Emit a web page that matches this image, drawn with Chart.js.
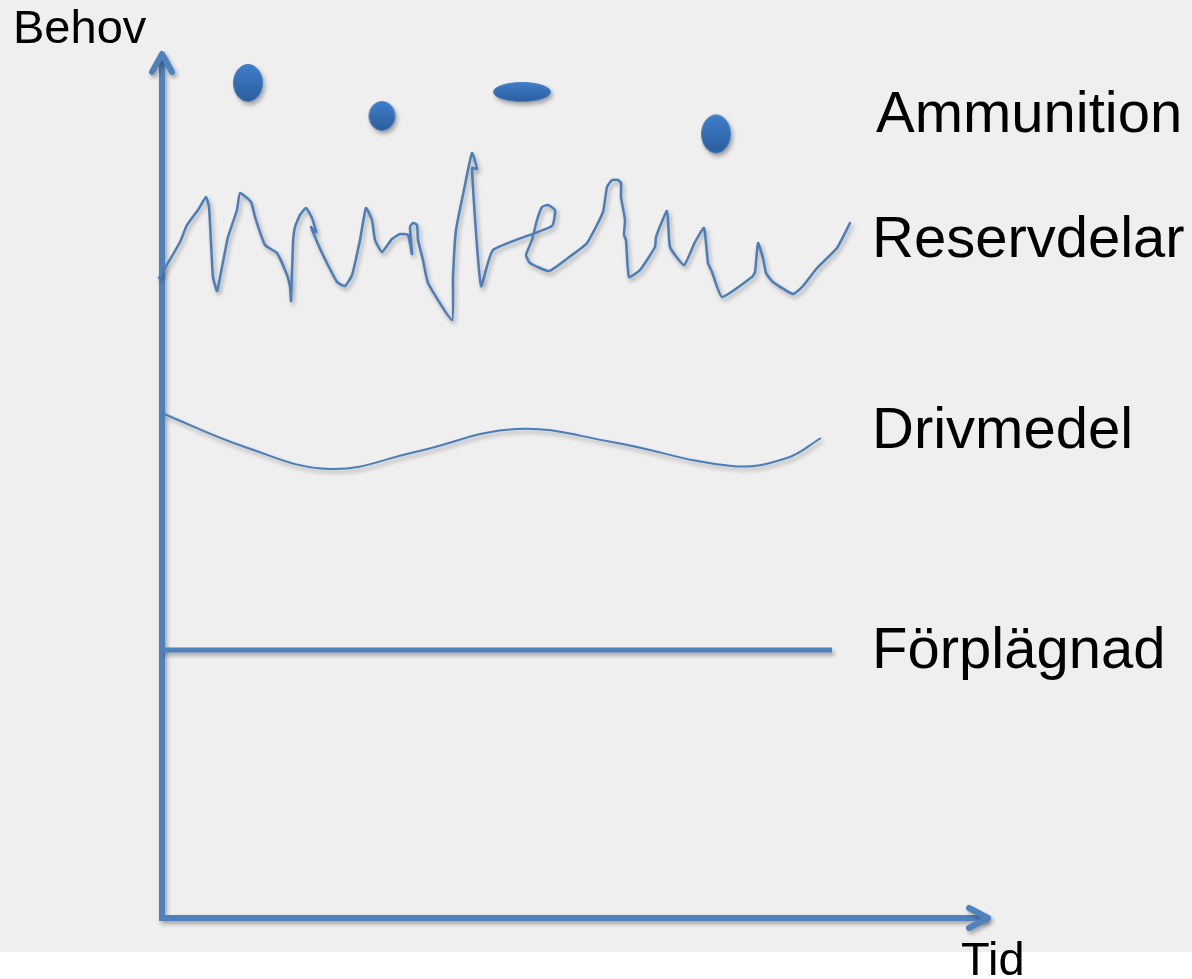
<!DOCTYPE html>
<html><head><meta charset="utf-8">
<script src="https://cdn.jsdelivr.net/npm/chart.js@4"></script>
<style>
html,body{margin:0;padding:0;background:#fff;}
#wrap{position:relative;width:1192px;height:979px;overflow:hidden;}
canvas{position:absolute;left:0;top:0;}
.lbl{position:absolute;font-family:"Liberation Sans",Arial,Helvetica,sans-serif;color:#000;line-height:1;white-space:nowrap;}
</style></head><body>
<div id="wrap"><canvas id="c" width="1192" height="979"></canvas></div>
<script>
// ---- data (units = Tid / Behov) ----
const categories = ['Ammunition', 'Reservdelar', 'Drivmedel', 'Förplägnad'];
const axisTitles = ['Behov', 'Tid'];
const X_MAX = 828, Y_MAX = 866;

const ammoX = [86, 220, 360, 554];
const ammoY = [835, 802, 826, 784];

const resX = [-3,3,18,25,36,44,47,49,51,55,60,66,75,78,89,93,103,115,125,128,129,131,133,138,144,150,154,149,153,160,175,183,190,198,204,210,213,220,230,238,246,250,248,251,255,256,261,266,290,291,294,302,310,315,310,319,331,390,393,386,380,375,370,364,368,387,406,425,441,445,450,456,459,459,463,462,464,467,478,493,494,505,508,522,533,542,546,550,560,590,593,596,601,604,611,631,641,655,675,688];
const resY = [640,650,676,693,708,721,711,675,641,627,651,681,708,725,716,701,673,665,643,631,617,675,691,703,710,700,686,691,681,665,636,632,643,678,710,698,678,666,679,684,683,664,691,695,693,678,658,635,598,641,688,728,765,749,750,632,668,692,708,713,711,698,678,663,655,647,660,675,706,731,738,738,735,721,698,683,678,641,648,671,681,707,671,653,676,690,655,646,621,641,646,675,660,645,636,624,632,650,670,695];

const drivX = [2, 83, 168, 253, 354, 450, 570, 625, 659];
const drivY = [504, 471, 449, 466, 489, 476, 452, 460, 480];

const forpX = [0, 670];
const forpY = [268, 268];

// ---- styles ----
const BLUE = '#4a7ebb';
const AXIS_BLUE = '#4f81bd';
const ammoW = [30, 27, 58, 30];
const ammoH = [38, 30, 20, 39];

function ellipseImage(w, h) {
  const pad = 2;
  const cv = document.createElement('canvas');
  cv.width = w + pad * 2; cv.height = h + pad * 2;
  const g = cv.getContext('2d');
  const grad = g.createLinearGradient(0, pad, 0, pad + h);
  grad.addColorStop(0, '#3f7fcc');
  grad.addColorStop(1, '#2b5d9b');
  g.beginPath();
  g.ellipse(cv.width / 2, cv.height / 2, w / 2 - 0.5, h / 2 - 0.5, 0, 0, Math.PI * 2);
  g.fillStyle = grad; g.fill();
  g.lineWidth = 1; g.strokeStyle = '#4a7fc2'; g.stroke();
  return cv;
}
const ammoImgs = ammoW.map((w, i) => ellipseImage(w, ammoH[i]));

const zip = (xs, ys) => xs.map((x, i) => ({ x, y: ys[i] }));

const bgPlugin = {
  id: 'bg',
  beforeDraw(chart) {
    const ctx = chart.ctx;
    ctx.save();
    ctx.fillStyle = '#ffffff';
    ctx.fillRect(0, 0, chart.width, chart.height);
    ctx.fillStyle = '#efefef';
    ctx.fillRect(0, 0, chart.width, 952);
    ctx.restore();
  }
};

function setShadow(ctx) {
  ctx.shadowColor = 'rgba(0,0,0,0.32)';
  ctx.shadowBlur = 4;
  ctx.shadowOffsetX = 2;
  ctx.shadowOffsetY = 3;
}

const axesPlugin = {
  id: 'arrowAxes',
  beforeDatasetsDraw(chart) {
    const { ctx, scales: { x, y } } = chart;
    const x0 = x.getPixelForValue(0), y0 = y.getPixelForValue(0);
    const yTop = y.getPixelForValue(Y_MAX), xEnd = x.getPixelForValue(X_MAX);
    ctx.save();
    setShadow(ctx);
    ctx.strokeStyle = AXIS_BLUE;
    ctx.lineWidth = 6;
    ctx.lineJoin = 'miter';
    ctx.beginPath();
    ctx.moveTo(x0, yTop + 3);
    ctx.lineTo(x0, y0);
    ctx.lineTo(xEnd - 3, y0);
    ctx.stroke();
    ctx.lineCap = 'round';
    ctx.lineJoin = 'round';
    ctx.beginPath();
    ctx.moveTo(x0 - 10, yTop + 20);
    ctx.lineTo(x0, yTop + 2);
    ctx.lineTo(x0 + 10, yTop + 20);
    ctx.moveTo(xEnd - 21, y0 - 10);
    ctx.lineTo(xEnd - 2, y0);
    ctx.lineTo(xEnd - 21, y0 + 10);
    ctx.stroke();
    ctx.restore();
  }
};

const shadowPlugin = {
  id: 'dsShadow',
  beforeDatasetDraw(chart) { chart.ctx.save(); setShadow(chart.ctx); },
  afterDatasetDraw(chart) { chart.ctx.restore(); }
};

new Chart(document.getElementById('c'), {
  type: 'scatter',
  data: {
    datasets: [
      { label: categories[3], data: zip(forpX, forpY), showLine: true, borderColor: AXIS_BLUE, borderWidth: 5, pointRadius: 0, clip: false },
      { label: categories[2], data: zip(drivX, drivY), showLine: true, borderColor: BLUE, borderWidth: 2, pointRadius: 0, tension: 0.4, clip: false },
      { label: categories[1], data: zip(resX, resY), showLine: true, borderColor: BLUE, borderWidth: 2.5, pointRadius: 0, tension: 0.15, borderJoinStyle: 'round', borderCapStyle: 'round', clip: false },
      { label: categories[0], data: zip(ammoX, ammoY), showLine: false, pointStyle: ammoImgs, pointRadius: 5, clip: false }
    ]
  },
  options: {
    responsive: false,
    animation: false,
    events: [],
    layout: { padding: { left: 162, right: 1192 - 162 - X_MAX, top: 52, bottom: 979 - 918 } },
    scales: {
      x: { type: 'linear', min: 0, max: X_MAX, display: false },
      y: { type: 'linear', min: 0, max: Y_MAX, display: false }
    },
    plugins: { legend: { display: false }, tooltip: { enabled: false }, title: { display: false } }
  },
  plugins: [bgPlugin, axesPlugin, shadowPlugin]
});

// ---- text labels (real DOM text) ----
const labelPos = [
  { text: categories[0], left: 876, top: 83, size: 58 },
  { text: categories[1], left: 872, top: 208, size: 58 },
  { text: categories[2], left: 872, top: 399, size: 58 },
  { text: categories[3], left: 872, top: 619, size: 58 },
  { text: axisTitles[0], left: 13, top: 3, size: 47 },
  { text: axisTitles[1], left: 961, top: 935, size: 47 }
];
const wrap = document.getElementById('wrap');
labelPos.forEach(l => {
  const d = document.createElement('div');
  d.className = 'lbl';
  d.textContent = l.text;
  d.style.left = l.left + 'px';
  d.style.top = l.top + 'px';
  d.style.fontSize = l.size + 'px';
  wrap.appendChild(d);
});
</script>
</body></html>
